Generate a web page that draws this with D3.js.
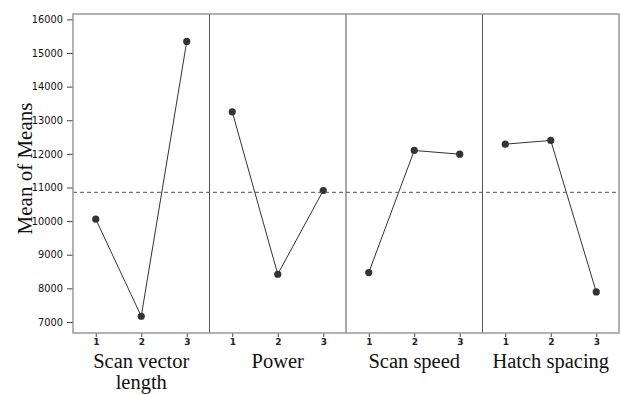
<!DOCTYPE html>
<html>
<head>
<meta charset="utf-8">
<script src="https://cdn.jsdelivr.net/npm/d3@7"></script>
<style>
  body { margin: 0; background: #fff; }
</style>
</head>
<body>
<div id="chart"></div>
<script>
const factors = ['Scan vector\nlength', 'Power', 'Scan speed', 'Hatch spacing'];
const levels = [1, 2, 3];
const scanVector = [10057, 7170, 15345];
const power = [13250, 8420, 10911];
const scanSpeed = [8470, 12101, 11991];
const hatch = [12289, 12399, 7893];
const yTicks = [7000, 8000, 9000, 10000, 11000, 12000, 13000, 14000, 15000, 16000];
const grandMean = 10856;

const series = [scanVector, power, scanSpeed, hatch];

const width = 621;
const height = 394;
const margin = { top: 14, right: 2, bottom: 61, left: 73 };

const svg = d3.select('#chart')
  .append('svg')
  .attr('width', width)
  .attr('height', height);

const plotW = width - margin.left - margin.right;
const plotH = height - margin.top - margin.bottom;

const panel = d3.scaleBand()
  .domain(d3.range(factors.length))
  .range([margin.left, margin.left + plotW])
  .padding(0);

const x = d3.scaleLinear()
  .domain([0.5, 3.5])
  .range([0, panel.bandwidth()]);

const y = d3.scaleLinear()
  .domain([6672, 16160])
  .range([margin.top + plotH, margin.top]);

// y axis
svg.append('g')
  .attr('transform', `translate(${margin.left},0)`)
  .call(d3.axisLeft(y).tickValues(yTicks).tickSize(6).tickSizeOuter(0).tickFormat(d3.format('d')))
  .call(g => g.select('.domain').remove())
  .call(g => g.selectAll('line').attr('stroke', '#444'))
  .call(g => g.selectAll('text')
    .attr('font-family', 'DejaVu Sans, sans-serif')
    .attr('font-size', '9.8px')
    .attr('fill', '#111')
    .attr('dx', '-1'));

svg.append('text')
  .attr('transform', `translate(32, ${margin.top + plotH / 2 - 5}) rotate(-90)`)
  .attr('text-anchor', 'middle')
  .attr('font-family', 'Liberation Serif, Times New Roman, serif')
  .attr('font-size', '21px')
  .attr('fill', '#111')
  .text('Mean of Means');

const line = d3.line()
  .x((d, i) => x(levels[i]))
  .y(d => y(d));

series.forEach((vals, k) => {
  const g = svg.append('g')
    .attr('transform', `translate(${panel(k)},0)`);

  // x axis for panel
  g.append('g')
    .attr('transform', `translate(0,${margin.top + plotH})`)
    .call(d3.axisBottom(x).tickValues(levels).tickSize(4).tickSizeOuter(0).tickFormat(d3.format('d')))
    .call(a => a.select('.domain').remove())
    .call(a => a.selectAll('line').attr('stroke', '#444'))
    .call(a => a.selectAll('text')
      .attr('font-family', 'DejaVu Sans, sans-serif')
      .attr('font-size', '9px')
      .attr('font-weight', 'bold')
      .attr('fill', '#222')
      .attr('dy', '0.6em'));

  // panel label
  const lines = factors[k].split('\n');
  g.append('text')
    .attr('x', panel.bandwidth() / 2)
    .attr('y', margin.top + plotH + 35)
    .attr('text-anchor', 'middle')
    .attr('font-family', 'Liberation Serif, Times New Roman, serif')
    .attr('font-size', '20.5px')
    .attr('fill', '#111')
    .selectAll('tspan')
    .data(lines)
    .join('tspan')
      .attr('x', panel.bandwidth() / 2)
      .attr('dy', (d, i) => i === 0 ? 0 : 21)
      .text(d => d);

  // divider
  if (k > 0) {
    g.append('line')
      .attr('x1', 0).attr('x2', 0)
      .attr('y1', margin.top).attr('y2', margin.top + plotH)
      .attr('stroke', '#555')
      .attr('stroke-width', 1);
  }

  g.append('path')
    .datum(vals)
    .attr('fill', 'none')
    .attr('stroke', '#333')
    .attr('stroke-width', 1)
    .attr('d', line);

  g.selectAll('circle')
    .data(vals)
    .join('circle')
      .attr('cx', (d, i) => x(levels[i]))
      .attr('cy', d => y(d))
      .attr('r', 3.6)
      .attr('fill', '#333');
});

// grand mean reference line
svg.append('line')
  .attr('x1', margin.left)
  .attr('x2', margin.left + plotW)
  .attr('y1', y(grandMean))
  .attr('y2', y(grandMean))
  .attr('stroke', '#555')
  .attr('stroke-width', 1)
  .attr('stroke-dasharray', '4,3');

// frame
svg.append('rect')
  .attr('x', margin.left)
  .attr('y', margin.top)
  .attr('width', plotW)
  .attr('height', plotH)
  .attr('fill', 'none')
  .attr('stroke', '#999')
  .attr('stroke-width', 1.5);
</script>
</body>
</html>
